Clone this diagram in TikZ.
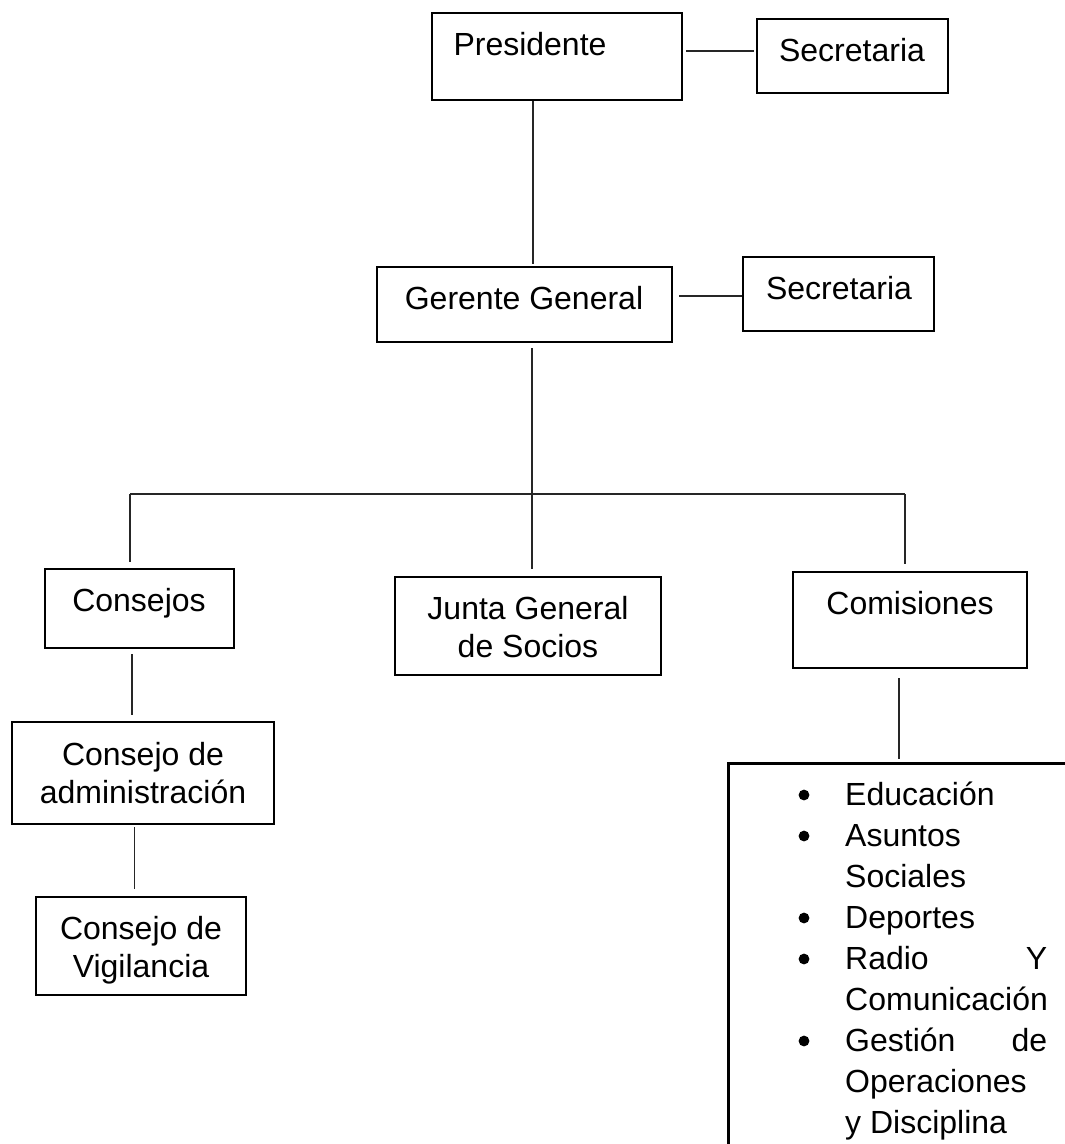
\documentclass[tikz,border=0pt]{standalone}
\usepackage{fontspec}
\setmainfont{Liberation Sans}
\usepackage{array}
\newcommand\orgfont{\fontsize{32}{38.5}\selectfont}
\newcommand\itemfont{\fontsize{32}{41}\selectfont}
\begin{document}
\begin{tikzpicture}[x=1pt,y=-1pt,
  box/.style={draw=black, line width=2.9pt, rectangle, inner sep=0pt},
  link/.style={draw=black!85, line width=1.3pt},
  dot/.style={fill=black},
  lbl/.style={inner sep=0pt, font=\orgfont, anchor=base}]
\useasboundingbox (0,0) rectangle (1065,1144);
\clip (0,0) rectangle (1065,1144);

% boxes
\node[box, minimum width=250pt, minimum height=87pt]  (pres)  at (557,56.5) {};
\node[box, minimum width=191pt, minimum height=74pt]  (sec1)  at (852.5,56) {};
\node[box, minimum width=295pt, minimum height=75pt]  (ger)   at (524.5,304.5) {};
\node[box, minimum width=191pt, minimum height=74pt]  (sec2)  at (838.5,294) {};
\node[box, minimum width=189pt, minimum height=79pt]  (cons)  at (139.5,608.5) {};
\node[box, minimum width=266pt, minimum height=98pt]  (junta) at (528,626) {};
\node[box, minimum width=234pt, minimum height=96pt]  (com)   at (910,620) {};
\node[box, minimum width=262pt, minimum height=102pt] (cadm)  at (143,773) {};
\node[box, minimum width=210pt, minimum height=98pt]  (cvig)  at (141,946) {};
\node[box, anchor=north west, minimum width=360pt, minimum height=420pt] (lst) at (727,762) {};

% labels
\node[lbl] (tpres) at (530,55) {Presidente};
\node[lbl] (tsec1) at (852,61) {Secretaria};
\node[lbl] (tger)  at (524,309) {Gerente General};
\node[lbl] (tsec2) at (839,299) {Secretaria};
\node[lbl] (tcons) at (139,611) {Consejos};
\node[lbl] (tjunta) at (528,619) {\begin{tabular}[t]{@{}c@{}}Junta General\\de Socios\end{tabular}};
\node[lbl] (tcom)  at (910,614) {Comisiones};
\node[lbl] (tcadm) at (143,765) {\begin{tabular}[t]{@{}c@{}}Consejo de\\administración\end{tabular}};
\node[lbl] (tcvig) at (141,939) {\begin{tabular}[t]{@{}c@{}}Consejo de\\Vigilancia\end{tabular}};

% list of commissions, justified like the source text
\node[lbl, anchor=base west, font=\itemfont] (items) at (845,805) {%
\begin{tabular}[t]{@{}p{202pt}@{}}
Educación\\
Asuntos\\
Sociales\\
Deportes\\
Radio\hspace{\fill}Y\\
Comunicación\\
Gestión\hspace{\fill}de\\
Operaciones\\
y Disciplina
\end{tabular}};

% bullets
\foreach \by in {795,836,918,959,1041}
  \fill[dot] (804,\by) circle (5.4pt);

% bus line under the general manager
\coordinate (busL) at (130,494);
\coordinate (busR) at (905,494);

% connectors
\draw[link, shorten <=3pt, shorten >=2pt] ([yshift=5.5pt]pres.east) -- ([yshift=5.5pt]pres.east -| sec1.west);
\draw[link, shorten >=2pt] ([xshift=-24pt]pres.south) -- ([xshift=-24pt]pres.south |- ger.north);
\draw[link, shorten <=6pt] ([yshift=8.5pt]ger.east) -- ([yshift=8.5pt]ger.east -| sec2.west);
\draw[link, shorten <=5pt, shorten >=7pt] ([xshift=7.5pt]ger.south) -- ([xshift=7.5pt]ger.south |- junta.north);
\draw[link] (busL) -- (busR);
\draw[link, shorten >=6pt] (busL) -- (busL |- cons.north);
\draw[link, shorten >=7pt] (busR) -- (busR |- com.north);
\draw[link, shorten <=5pt, shorten >=6pt] ([xshift=-7.5pt]cons.south) -- ([xshift=-7.5pt]cons.south |- cadm.north);
\draw[link, shorten <=2pt, shorten >=7pt] ([xshift=-8.5pt]cadm.south) -- ([xshift=-8.5pt]cadm.south |- cvig.north);
\draw[link, shorten <=9pt, shorten >=3pt] ([xshift=-11pt]com.south) -- ([xshift=-11pt]com.south |- lst.north);
\end{tikzpicture}
\end{document}
